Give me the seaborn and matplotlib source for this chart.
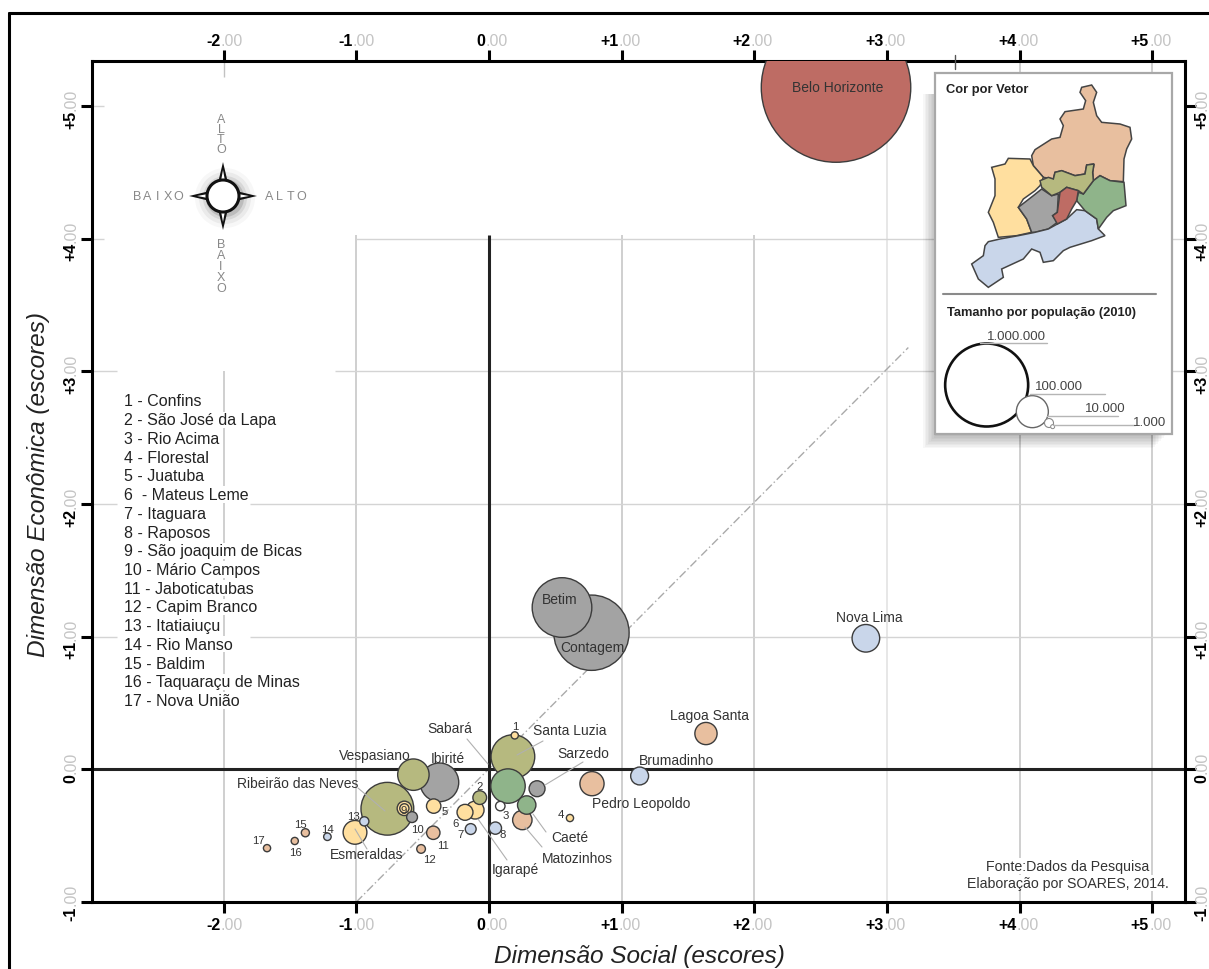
import pandas as pd
import matplotlib.pyplot as plt
from matplotlib.patches import Circle, Polygon, Rectangle
import seaborn as sns

# municipios: nome, vetor, escores e populacao
nomes = ['Belo Horizonte', 'Contagem', 'Betim', 'Ribeirão das Neves', 'Santa Luzia', 'Ibirité', 'Sabará',
         'Vespasiano', 'Nova Lima', 'Pedro Leopoldo', 'Esmeraldas', 'Lagoa Santa', 'Matozinhos', 'Caeté',
         'Brumadinho', 'Igarapé', 'Sarzedo', 'Mateus Leme', 'São Joaquim de Bicas', 'Juatuba', 'São José da Lapa',
         'Jaboticatubas', 'Raposos', 'Itaguara', 'Mário Campos', 'Rio Acima', 'Itatiaiuçu', 'São Joaquim (anel)',
         'Capim Branco', 'Baldim', 'Rio Manso', 'Taquaraçu de Minas', 'Nova União', 'Confins', 'Florestal']
vetor = ['centro', 'oeste', 'oeste', 'norte_c', 'norte_c', 'oeste', 'leste',
         'norte_c', 'sul', 'norte', 'sudoeste', 'norte', 'norte', 'leste',
         'sul', 'sudoeste', 'oeste', 'sudoeste', 'sudoeste', 'sudoeste', 'norte_c',
         'norte', 'sul', 'sul', 'oeste', 'branco', 'sul', 'sudoeste',
         'norte', 'norte', 'sul', 'norte', 'norte', 'sudoeste', 'sudoeste']
esc_social = [2.615, 0.772, 0.55, -0.766, 0.18, -0.374, 0.143,
              -0.57, 2.84, 0.776, -1.01, 1.635, 0.251, 0.284,
              1.135, -0.105, 0.362, -0.181, -0.638, -0.417, -0.07,
              -0.42, 0.048, -0.138, -0.58, 0.085, -0.94, -0.638,
              -0.512, -1.384, -1.218, -1.464, -1.673, 0.194, 0.61]
esc_economica = [5.14, 1.03, 1.22, -0.297, 0.096, -0.098, -0.126,
                 -0.04, 0.988, -0.108, -0.475, 0.27, -0.382, -0.269,
                 -0.05, -0.307, -0.146, -0.324, -0.294, -0.277, -0.213,
                 -0.478, -0.443, -0.45, -0.36, -0.277, -0.392, -0.294,
                 -0.6, -0.478, -0.508, -0.54, -0.594, 0.256, -0.367]
populacao = [2375000, 603000, 378000, 296000, 203000, 159000, 126000,
             105000, 81000, 62000, 60000, 52500, 40000, 36000,
             34000, 34000, 27000, 27000, 22000, 22000, 20000,
             19000, 16000, 12500, 12500, 9500, 9000, 9000,
             8000, 7000, 6000, 5500, 5500, 5500, 5500]

cores = {'centro': '#BE6C64', 'oeste': '#A3A3A3', 'norte_c': '#B6B97F', 'leste': '#8FB48A',
         'sul': '#C9D6EA', 'norte': '#E8BF9F', 'sudoeste': '#FFDF9F', 'branco': '#FFFFFF'}

xticks = [-2, -1, 0, 1, 2, 3, 4, 5]
yticks = [-1, 0, 1, 2, 3, 4, 5]
xtick_labels = ['-2', '-1', '0', '+1', '+2', '+3', '+4', '+5']
ytick_labels = ['-1', '0', '+1', '+2', '+3', '+4', '+5']

lista = ['1 - Confins', '2 - São José da Lapa', '3 - Rio Acima', '4 - Florestal', '5 - Juatuba',
         '6  - Mateus Leme', '7 - Itaguara', '8 - Raposos', '9 - São joaquim de Bicas', '10 - Mário Campos',
         '11 - Jaboticatubas', '12 - Capim Branco', '13 - Itatiaiuçu', '14 - Rio Manso', '15 - Baldim',
         '16 - Taquaraçu de Minas', '17 - Nova União']

# rotulos (texto, x, y em pixels da figura)
rotulos = [('Belo Horizonte', 838, 88), ('Betim', 560, 600), ('Contagem', 592, 648), ('Nova Lima', 869, 618),
           ('Lagoa Santa', 710, 716), ('Sabará', 450, 729), ('Santa Luzia', 570, 731), ('Vespasiano', 375, 756),
           ('Ibirité', 448, 759), ('Sarzedo', 583, 754), ('Brumadinho', 677, 761), ('Ribeirão das Neves', 298, 784),
           ('Pedro Leopoldo', 641, 804), ('Caeté', 570, 838), ('Matozinhos', 577, 859), ('Igarapé', 515, 870),
           ('Esmeraldas', 367, 855)]
numeros = [('1', 515, 727), ('2', 480, 787), ('3', 506, 816), ('4', 561, 815), ('5', 445, 812), ('6', 456, 824),
           ('7', 461, 835), ('8', 503, 835), ('9', 404, 811), ('10', 417, 830), ('11', 443, 846), ('12', 429, 860),
           ('13', 353, 817), ('14', 327, 830), ('15', 300, 825), ('16', 295, 853), ('17', 258, 841)]
guias = [(467, 740, 488, 765), (543, 742, 517, 756), (583, 763, 545, 786), (358, 789, 385, 812),
         (367, 850, 355, 830), (546, 833, 533, 815), (542, 848, 525, 828), (507, 861, 478, 820)]

# contornos do mapa (coordenadas no recorte 3x do mapa)
mapa_norte = [(335, 290), (345, 272), (395, 240), (420, 235), (430, 200), (420, 180), (435, 158), (490, 150),
              (497, 125), (480, 100), (485, 85), (515, 78), (530, 100), (520, 130), (530, 170), (545, 190),
              (600, 195), (630, 205), (635, 240), (620, 270), (612, 300), (610, 368), (570, 365), (540, 350),
              (520, 365), (518, 340), (522, 315), (500, 318), (495, 345), (465, 350), (425, 335), (405, 340),
              (400, 360), (370, 355), (340, 320)]
mapa_norte_c = [(360, 365), (385, 355), (400, 360), (405, 340), (425, 335), (465, 350), (495, 345), (500, 318),
                (522, 315), (518, 340), (520, 365), (505, 385), (490, 405), (475, 395), (440, 385), (420, 400),
                (395, 410), (365, 385)]
mapa_sudoeste = [(215, 325), (255, 315), (265, 298), (330, 300), (340, 320), (370, 355), (360, 380), (345, 395),
                 (310, 420), (295, 445), (320, 480), (335, 520), (290, 530), (235, 535), (220, 490), (205, 460),
                 (225, 410), (225, 360)]
mapa_oeste = [(295, 445), (340, 410), (365, 390), (395, 410), (415, 405), (412, 460), (398, 470), (412, 490),
              (385, 510), (345, 520), (335, 520), (320, 480)]
mapa_centro = [(420, 400), (440, 385), (475, 395), (470, 425), (455, 450), (440, 480), (412, 495), (398, 470),
               (412, 460)]
mapa_leste = [(470, 425), (475, 400), (490, 405), (505, 385), (520, 365), (540, 350), (570, 365), (612, 370),
              (618, 440), (580, 455), (560, 475), (535, 510), (530, 480), (495, 455)]
mapa_sul = [(205, 548), (240, 540), (295, 530), (345, 520), (385, 510), (412, 495), (440, 480), (470, 452),
            (495, 455), (530, 480), (535, 510), (555, 530), (515, 545), (450, 565), (430, 575), (400, 605),
            (370, 610), (360, 580), (335, 570), (310, 600), (245, 630), (250, 655), (205, 685), (175, 660),
            (155, 615), (190, 590), (195, 560)]

df = pd.DataFrame({'nome': nomes, 'vetor': vetor, 'social': esc_social, 'economica': esc_economica, 'pop': populacao})
df = df.sort_values('pop', ascending=False, kind='stable')

sns.set_theme(style='white')
plt.rcParams['font.family'] = ['Liberation Sans', 'DejaVu Sans']

fig = plt.figure(figsize=(12.09, 9.70), dpi=100)
ax = fig.add_axes([92 / 1209, 1 - 903 / 970, 1093 / 1209, 841 / 970])
ax.set_xlim(-2.992, 5.245)
ax.set_ylim(-1, 5.34)

# grade em trechos, como no original
grade = '#c2c2c2'
claro = '#d4d4d4'
ax.vlines([-1, 1, 2], -1, 4.03, color=grade, lw=1.1, zorder=1)
ax.vlines(-2, -1, 3, color=grade, lw=1.1, zorder=1)
ax.vlines(-2, 5.22, 5.34, color=grade, lw=1, zorder=1)
ax.vlines(3, -1, 5.34, color='#e0e0e0', lw=1.1, zorder=1)
ax.vlines([4, 5], -1, 5.34, color=grade, lw=1.1, zorder=1)
ax.hlines([1, 2], -1.8, 5.245, color=claro, lw=1, zorder=1)
ax.hlines([1, 2, 3], -2.992, -2.8, color=claro, lw=1, zorder=1)
ax.hlines([3, 4], [-1.16, -1], 5.245, color=claro, lw=1, zorder=1)
ax.hlines([4, 5], -2.992, -2.9, color=claro, lw=1, zorder=1)
ax.plot([-1, 3.16], [-1, 3.18], color='#aaaaaa', lw=1, ls=(0, (6, 2, 1, 2)), zorder=1)
ax.hlines(0, -2.992, 5.245, color='#222222', lw=2.2, zorder=2)
ax.vlines(0, -1, 4.03, color='#222222', lw=2.2, zorder=2)

# area da bolha proporcional a populacao (seaborn corta acima do limite de size_norm)
sns.scatterplot(data=df, x='social', y='economica', hue='vetor', palette=cores, size='pop',
                sizes=(0, 4877 * 2.4), size_norm=(0, 2400000), edgecolor='#3c3c3c', linewidth=1,
                legend=False, alpha=1, ax=ax, zorder=3)

ax.set_xticks(xticks)
ax.set_yticks(yticks)
ax.tick_params(top=True, right=True, bottom=True, left=True, length=8, width=2.2, color='black',
               labelbottom=False, labelleft=False, direction='out')
for s in ax.spines.values():
    s.set_visible(True)
    s.set_linewidth(2.2)
    s.set_color('black')

ax.set_xlabel('Dimensão Social (escores)', style='italic', fontsize=17.6, color='#222222', va='center')
ax.set_ylabel('Dimensão Econômica (escores)', style='italic', fontsize=17.6, color='#222222', va='center')
ax.xaxis.set_label_coords(0.501, -0.064)
ax.yaxis.set_label_coords(-0.049, 0.498)

# rotulos dos eixos em duas partes (negrito + .00 claro)
for v, lab in zip(xticks, xtick_labels):
    for yfrac, dy in [(1, 15), (0, -16)]:
        ax.annotate(lab, (v, yfrac), xycoords=('data', 'axes fraction'), xytext=(-2.5, dy),
                    textcoords='offset points', ha='right', va='center', fontsize=11.5, fontweight='bold',
                    color='black')
        ax.annotate('.00', (v, yfrac), xycoords=('data', 'axes fraction'), xytext=(-2.5, dy),
                    textcoords='offset points', ha='left', va='center', fontsize=11.5, color='#c4c4c4')
for v, lab in zip(yticks, ytick_labels):
    for xfrac, dx in [(0, -15), (1, 12.3)]:
        ax.annotate(lab, (xfrac, v), xycoords=('axes fraction', 'data'), xytext=(dx, -2.5),
                    textcoords='offset points', ha='center', va='top', rotation=90, fontsize=11.5,
                    fontweight='bold', color='black', annotation_clip=False)
        ax.annotate('.00', (xfrac, v), xycoords=('axes fraction', 'data'), xytext=(dx, -2.5),
                    textcoords='offset points', ha='center', va='bottom', rotation=90, fontsize=11.5,
                    color='#c4c4c4', annotation_clip=False)

# camada em pixels para moldura, textos e mapa
ov = fig.add_axes([0, 0, 1, 1], zorder=5)
ov.set_xlim(0, 1209)
ov.set_ylim(970, 0)
ov.axis('off')
ov.patch.set_alpha(0)

ov.plot([9, 9], [970, 14], color='black', lw=2.2)
ov.plot([9, 1209], [14, 14], color='black', lw=2.2)
ov.plot([955, 955], [56, 70], color='#555555', lw=1)

for x0, y0, x1, y1 in guias:
    ov.plot([x0, x1], [y0, y1], color='#b0b0b0', lw=0.8)
for t, x, y in rotulos:
    ov.text(x, y, t, fontsize=10, color='#333333', ha='center', va='center')
for t, x, y in numeros:
    ov.text(x, y, t, fontsize=8.2, color='#333333', ha='center', va='center')

for i, t in enumerate(lista):
    ov.text(124, 402 + i * 18.72, t, fontsize=11.5, color='#222222', ha='left', va='center',
            bbox=dict(facecolor='white', edgecolor='none', pad=0.5))

ov.text(1068, 867, 'Fonte:Dados da Pesquisa', fontsize=10.2, color='#333333', ha='center', va='center',
        bbox=dict(facecolor='white', edgecolor='none', pad=1))
ov.text(1068, 884, 'Elaboração por SOARES, 2014.', fontsize=10.2, color='#333333', ha='center', va='center',
        bbox=dict(facecolor='white', edgecolor='none', pad=1))

# rosa dos ventos
cx, cy = 223, 197
for r, a in [(30, 0.03), (26, 0.05), (22, 0.08), (19, 0.12)]:
    ov.add_patch(Circle((cx + 2, cy + 2), r, facecolor='black', edgecolor='none', alpha=a))
for dx, dy in [(0, -1), (0, 1), (-1, 0), (1, 0)]:
    ponta = (cx + dx * 34, cy + dy * 34)
    a = (cx + dx * 13 + dy * 5, cy + dy * 13 + dx * 5)
    b = (cx + dx * 13 - dy * 5, cy + dy * 13 - dx * 5)
    ov.add_patch(Polygon([ponta, a, b], facecolor='#111111', edgecolor='none'))
    a2 = (cx + dx * 14 + dy * 2.2, cy + dy * 14 + dx * 2.2)
    b2 = (cx + dx * 14 - dy * 2.2, cy + dy * 14 - dx * 2.2)
    ov.add_patch(Polygon([(cx + dx * 26, cy + dy * 26), a2, b2], facecolor='white', edgecolor='none'))
ov.add_patch(Circle((cx, cy), 16, facecolor='white', edgecolor='#111111', lw=2.2))
for i, c in enumerate('BAIXO'):
    ov.text(137 + i * 10.4, 197, c, fontsize=9, color='#888888', ha='center', va='center')
for i, c in enumerate('ALTO'):
    ov.text(269 + i * 10.8, 197, c, fontsize=9, color='#888888', ha='center', va='center')
for i, c in enumerate('ALTO'):
    ov.text(221, 120 + i * 10, c, fontsize=9, color='#888888', ha='center', va='center')
for i, c in enumerate('BAIXO'):
    ov.text(221, 245 + i * 11, c, fontsize=9, color='#888888', ha='center', va='center')


# quadro com o mapa e a escala de tamanho
def zx(x):
    return 920 + x / 3


def zy(y):
    return 60 + y / 3


for i in range(9):
    ov.add_patch(Rectangle((935 - 1.5 * i, 95), 230, 342 + 1.5 * i, facecolor='black', edgecolor='none', alpha=0.03))
ov.add_patch(Rectangle((935, 74), 237, 361, facecolor='white', edgecolor='#a8a8a8', lw=1.6))

for contorno, cor in [(mapa_norte, 'norte'), (mapa_sudoeste, 'sudoeste'), (mapa_oeste, 'oeste'), (mapa_sul, 'sul'),
                      (mapa_leste, 'leste'), (mapa_norte_c, 'norte_c'), (mapa_centro, 'centro')]:
    ov.add_patch(Polygon([(zx(x), zy(y)) for x, y in contorno], facecolor=cores[cor], edgecolor='#444444', lw=1.1))

ov.plot([zx(70), zx(708)], [zy(705), zy(705)], color='#8a8a8a', lw=1.5)
ov.text(zx(77), zy(90), 'Cor por Vetor', fontsize=9.3, fontweight='bold', color='#222222', ha='left', va='center')
ov.text(zx(80), zy(760), 'Tamanho por população (2010)', fontsize=9.3, fontweight='bold', color='#222222',
        ha='left', va='center')

ov.add_patch(Circle((zx(200), zy(978)), 41.5, facecolor='white', edgecolor='#111111', lw=1.9))
ov.add_patch(Circle((zx(337), zy(1058)), 16, facecolor='white', edgecolor='#666666', lw=1))
ov.add_patch(Circle((zx(387), zy(1092)), 4.5, facecolor='white', edgecolor='#888888', lw=0.8))
ov.add_patch(Circle((zx(398), zy(1103)), 2, facecolor='white', edgecolor='#888888', lw=0.7))
for t, x, y, x0, x1, yl in [('1.000.000', 290, 832, 180, 380, 852), ('100.000', 417, 982, 330, 555, 1005),
                            ('10.000', 557, 1048, 380, 595, 1072), ('1.000', 690, 1090, 400, 645, 1097)]:
    ov.plot([zx(x0), zx(x1)], [zy(yl), zy(yl)], color='#b5b5b5', lw=1)
    ov.text(zx(x), zy(y), t, fontsize=9.5, color='#444444', ha='center', va='center')

fig.savefig('out.png', dpi=100)
